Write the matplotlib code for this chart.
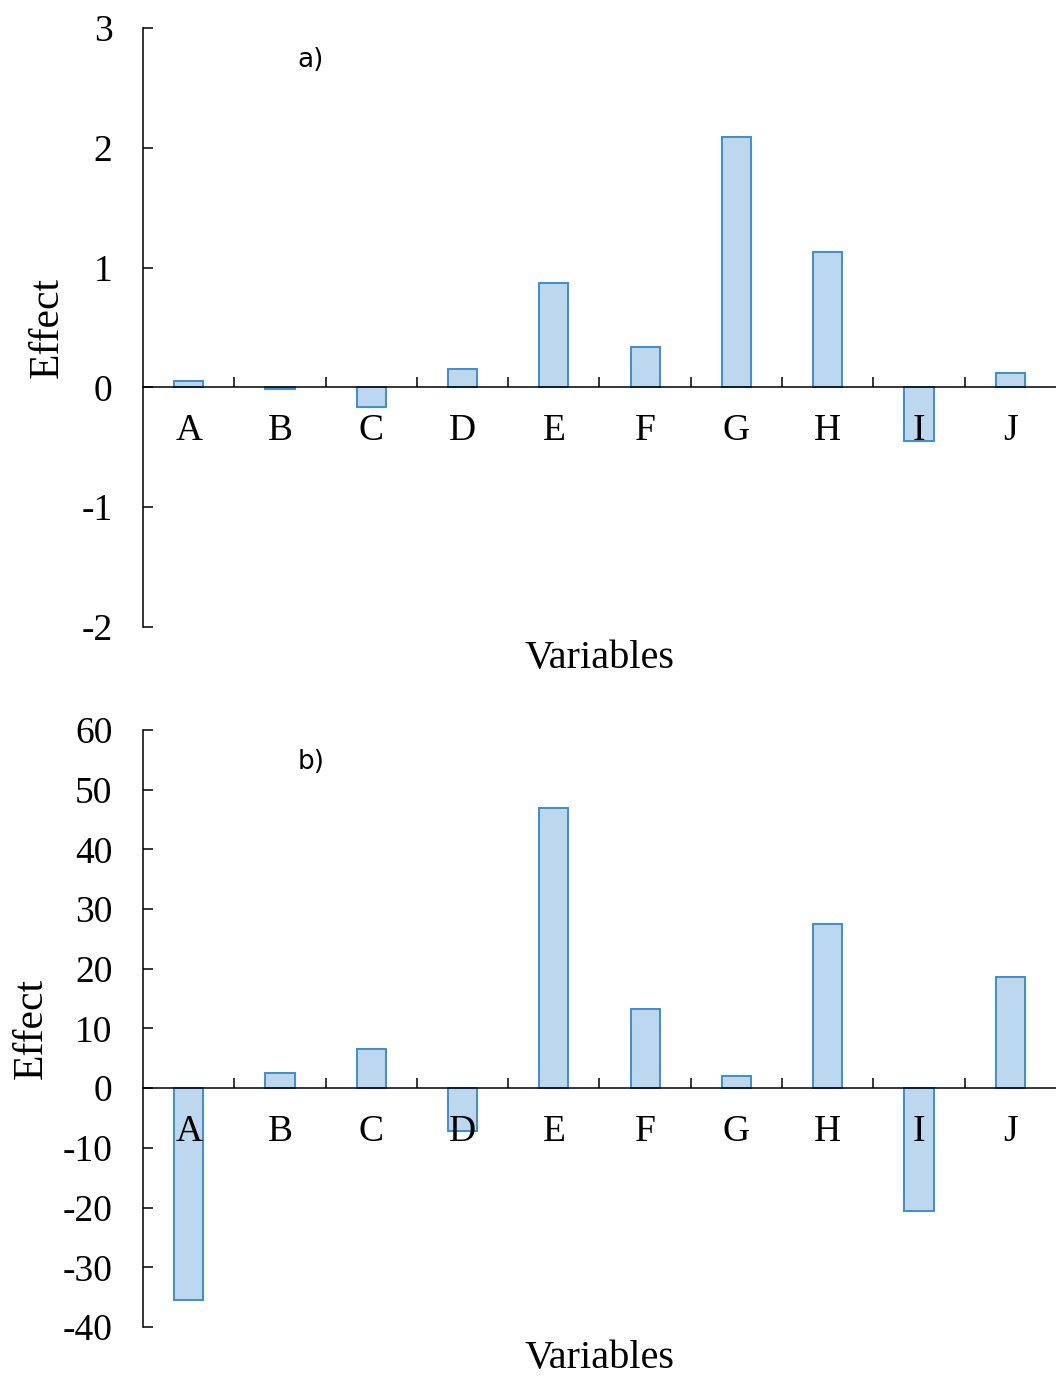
import numpy as np
import matplotlib
matplotlib.use("Agg")
import matplotlib.pyplot as plt
from matplotlib.ticker import FixedLocator, NullFormatter

variables = ['A', 'B', 'C', 'D', 'E', 'F', 'G', 'H', 'I', 'J']
effect_a = [0.05, -0.015, -0.16, 0.15, 0.87, 0.34, 2.09, 1.13, -0.45, 0.12]
effect_b = [-35.4, 2.5, 6.5, -7.2, 47.0, 13.3, 2.0, 27.5, -20.6, 18.6]

yticks_a = [-2, -1, 0, 1, 2, 3]
yticks_b = [-40, -30, -20, -10, 0, 10, 20, 30, 40, 50, 60]

FACE = '#BDD7EE'
EDGE = '#3A8FD6'
SERIF = 'Liberation Serif'


def draw_panel(ax, values, yticks, tag, ylab_x):
    x = np.arange(len(variables))
    ax.bar(x, values, width=0.32, color=FACE, edgecolor=EDGE, linewidth=1.4, zorder=1)

    ax.set_xlim(-0.5, len(variables) - 0.5)
    ax.set_ylim(yticks[0], yticks[-1])

    for s in ['top', 'right']:
        ax.spines[s].set_visible(False)
    ax.spines['bottom'].set_position(('data', 0))
    ax.spines['bottom'].set_zorder(3)
    for s in ['left', 'bottom']:
        ax.spines[s].set_linewidth(1.1)

    # ticks between categories, labels at centres
    ax.xaxis.set_major_locator(FixedLocator(x[:-1] + 0.5))
    ax.xaxis.set_major_formatter(NullFormatter())
    ax.set_xticks(x, variables, minor=True)
    ax.tick_params(axis='x', which='major', direction='in', length=7, width=1.1)
    ax.tick_params(axis='x', which='minor', length=0, pad=19, labelsize=27)

    ax.set_yticks(yticks, [str(v) for v in yticks])
    ax.tick_params(axis='y', direction='in', length=7, width=1.1, pad=22, labelsize=27)

    for lab in ax.get_xticklabels(minor=True) + ax.get_yticklabels():
        lab.set_fontfamily(SERIF)

    ax.text(0.5, -0.052, 'Variables', transform=ax.transAxes, ha='center', va='center',
            fontsize=29, family=SERIF)
    ax.text(ylab_x, 0.5, 'Effect', transform=ax.transAxes, rotation=90, ha='center',
            va='center', fontsize=30, family=SERIF)
    ax.text(0.169, 0.947, tag, transform=ax.transAxes, ha='left', va='center',
            fontsize=19, family='DejaVu Sans')


fig = plt.figure(figsize=(10.56, 13.76), dpi=100)
ax1 = fig.add_axes([0.1354, 0.5443, 0.8646, 0.4354])
ax2 = fig.add_axes([0.1354, 0.0356, 0.8646, 0.4339])

draw_panel(ax1, effect_a, yticks_a, 'a)', -0.105)
draw_panel(ax2, effect_b, yticks_b, 'b)', -0.122)

fig.savefig('out.png', dpi=100)
